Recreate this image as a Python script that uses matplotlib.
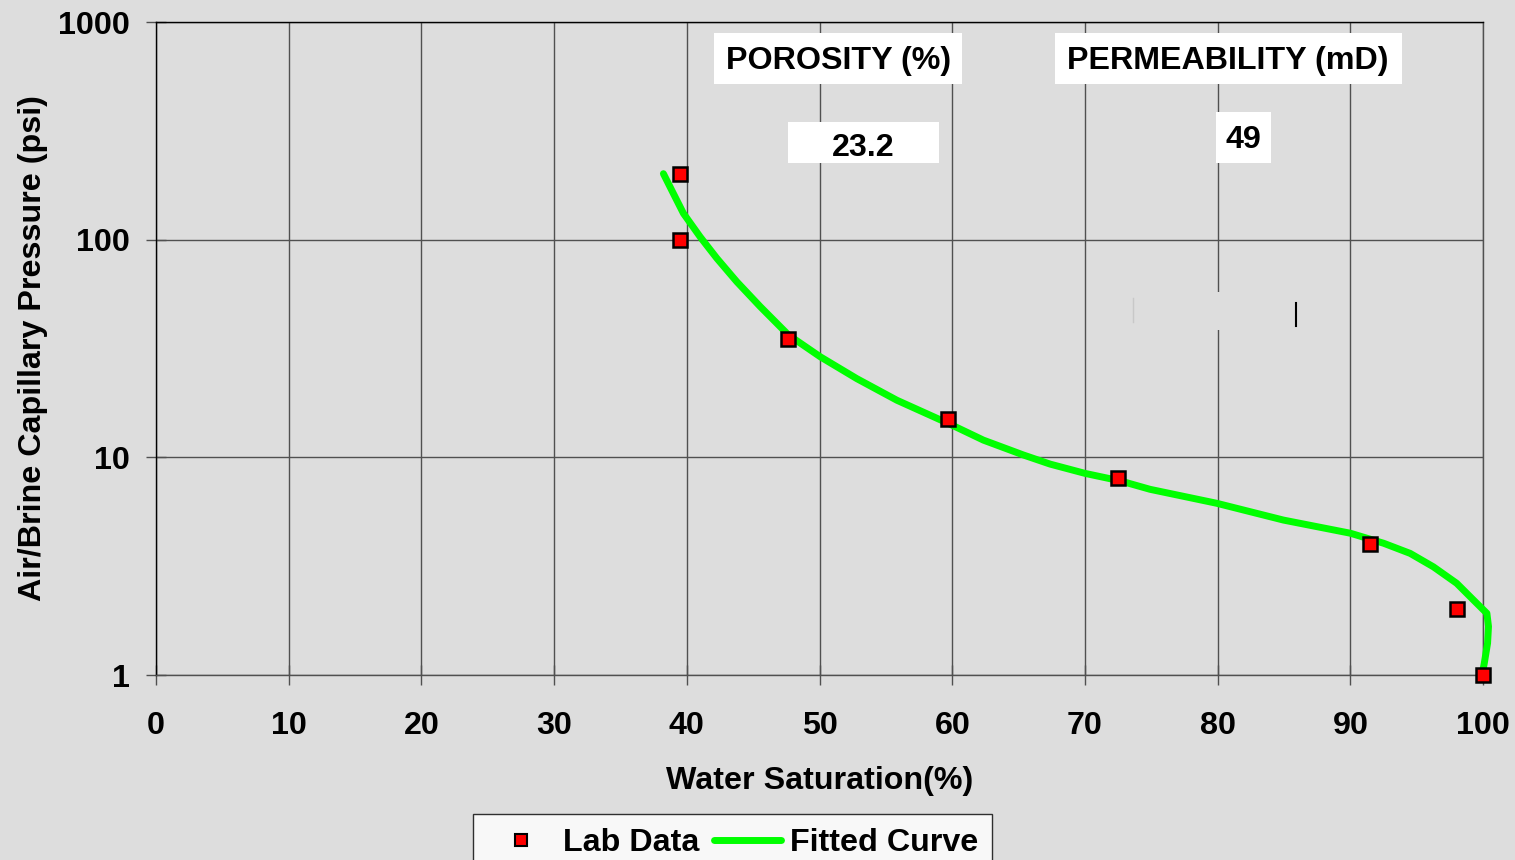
#!/usr/bin/ python
# -*- coding: utf-8 -*-

import matplotlib
matplotlib.use('Agg')
import matplotlib.pyplot as plt
from matplotlib.patches import Rectangle
from matplotlib.lines import Line2D

# Lab measurements
lab_sw = [39.5, 39.5, 47.6, 59.7, 72.5, 91.5, 98.0, 100.0]
lab_pc = [200, 100, 35, 15, 8, 4, 2, 1]

# Fitted curve
fit_sw = [38.23, 38.98, 39.74, 41.0, 42.25, 43.76, 45.52, 47.65, 50.04,
          52.8, 55.82, 59.83, 62.34, 65.36, 67.37, 70.0, 72.64, 74.9, 79.93,
          84.95, 87.5, 90.0, 92.5, 94.5, 96.25, 98.0, 99.27, 100.28, 100.4,
          100.33, 100.08, 99.95]
fit_pc = [201, 163, 132, 103, 82.2, 64.1, 49.3, 36.5, 29.0,
          23.0, 18.3, 14.2, 12.0, 10.25, 9.31, 8.44, 7.8, 7.13, 6.15,
          5.15, 4.8, 4.48, 4.03, 3.62, 3.14, 2.64, 2.21, 1.92, 1.67,
          1.40, 1.13, 1.03]

x_ticks = [0, 10, 20, 30, 40, 50, 60, 70, 80, 90, 100]
y_ticks = [1, 10, 100, 1000]

porosity = '23.2'
permeability = '49'

bg = '#dddddd'
grid_c = '#505050'
plt.rcParams['font.family'] = ['Liberation Sans', 'DejaVu Sans']
plt.rcParams['font.weight'] = 'bold'
fs = 23.2

fig = plt.figure(figsize=(15.15, 8.6), dpi=100, facecolor=bg)
ax = fig.add_axes([0.103, 0.2151, 0.876, 0.7593], facecolor=bg)

ax.set_yscale('log')
ax.set_xlim(0, 100)
ax.set_ylim(1, 1000)
ax.set_xticks(x_ticks)
ax.set_xticklabels([str(v) for v in x_ticks])
ax.set_yticks(y_ticks)
ax.set_yticklabels([str(v) for v in y_ticks])
ax.minorticks_off()
ax.grid(True, color=grid_c, linewidth=1.0)
ax.set_axisbelow(True)
ax.tick_params(axis='both', direction='inout', length=14, width=1,
               color=grid_c, labelsize=fs)
ax.tick_params(axis='x', pad=19)
ax.tick_params(axis='y', pad=12)
for lab in ax.get_xticklabels() + ax.get_yticklabels():
    lab.set_fontweight('bold')

ax.spines['left'].set_color('black')
ax.spines['top'].set_color('black')
ax.spines['right'].set_color(grid_c)
ax.spines['bottom'].set_color(grid_c)
for s in ax.spines.values():
    s.set_linewidth(1.0)

ax.plot(fit_sw, fit_pc, color='#00ff00', linewidth=5.0,
        solid_capstyle='round', solid_joinstyle='round', zorder=3,
        clip_on=False)
ax.plot(lab_sw, lab_pc, linestyle='none', marker='s', markersize=9.5,
        markerfacecolor='#ff0000', markeredgecolor='black',
        markeredgewidth=1.8, zorder=4, clip_on=False)

ax.set_xlabel('Water Saturation(%)', fontsize=fs, fontweight='bold', labelpad=18)
ax.set_ylabel('Air/Brine Capillary Pressure (psi)', fontsize=fs,
              fontweight='bold', labelpad=7)

# Annotation boxes (white rectangles with centred text)
boxes = [
    ('POROSITY (%)', (0.4205, 0.9051, 0.1869, 0.0781), (0.514, 0.9405)),
    (porosity, (0.4763, 0.7841, 0.1137, 0.0628), (0.5328, 0.8075)),
    ('PERMEABILITY (mD)', (0.6775, 0.9051, 0.2615, 0.0781), (0.8078, 0.9405)),
    (permeability, (0.7988, 0.7841, 0.0414, 0.0781), (0.8191, 0.8195)),
]
for txt, (bx, by, bw, bh), (tx, ty) in boxes:
    ax.add_patch(Rectangle((bx, by), bw, bh, transform=ax.transAxes,
                           facecolor='white', edgecolor='none', zorder=5))
    ax.text(tx, ty, txt, transform=ax.transAxes, ha='center', va='center',
            fontsize=fs, fontweight='bold', zorder=6)

# empty box left over in the original
ax.add_patch(Rectangle((0.736, 0.528), 0.124, 0.059, transform=ax.transAxes,
                       facecolor=bg, edgecolor='none', zorder=2))
ax.plot([0.7365, 0.7365], [0.54, 0.578], transform=ax.transAxes,
        color='#c8c8c8', linewidth=1, zorder=2)
ax.plot([0.859, 0.859], [0.534, 0.57], transform=ax.transAxes,
        color='black', linewidth=1.5, zorder=2)

handles = [
    Line2D([], [], linestyle='none', marker='s', markersize=8,
           markerfacecolor='#ff0000', markeredgecolor='black',
           markeredgewidth=1.5),
    Line2D([], [], color='#00ff00', linewidth=5.0, solid_capstyle='round'),
]
leg = fig.legend(handles, ['Lab Data', 'Fitted Curve'], loc='upper center',
                 bbox_to_anchor=(0.4835, 0.0535), ncol=2, frameon=True,
                 fancybox=False, prop={'size': fs, 'weight': 'bold'},
                 handlelength=2.1, handletextpad=0.25, columnspacing=0.45,
                 borderpad=0.45, borderaxespad=0)
leg.get_frame().set_edgecolor('black')
leg.get_frame().set_facecolor('white')
leg.get_frame().set_linewidth(1.0)

plt.savefig('out.png', dpi=100, facecolor=bg)
